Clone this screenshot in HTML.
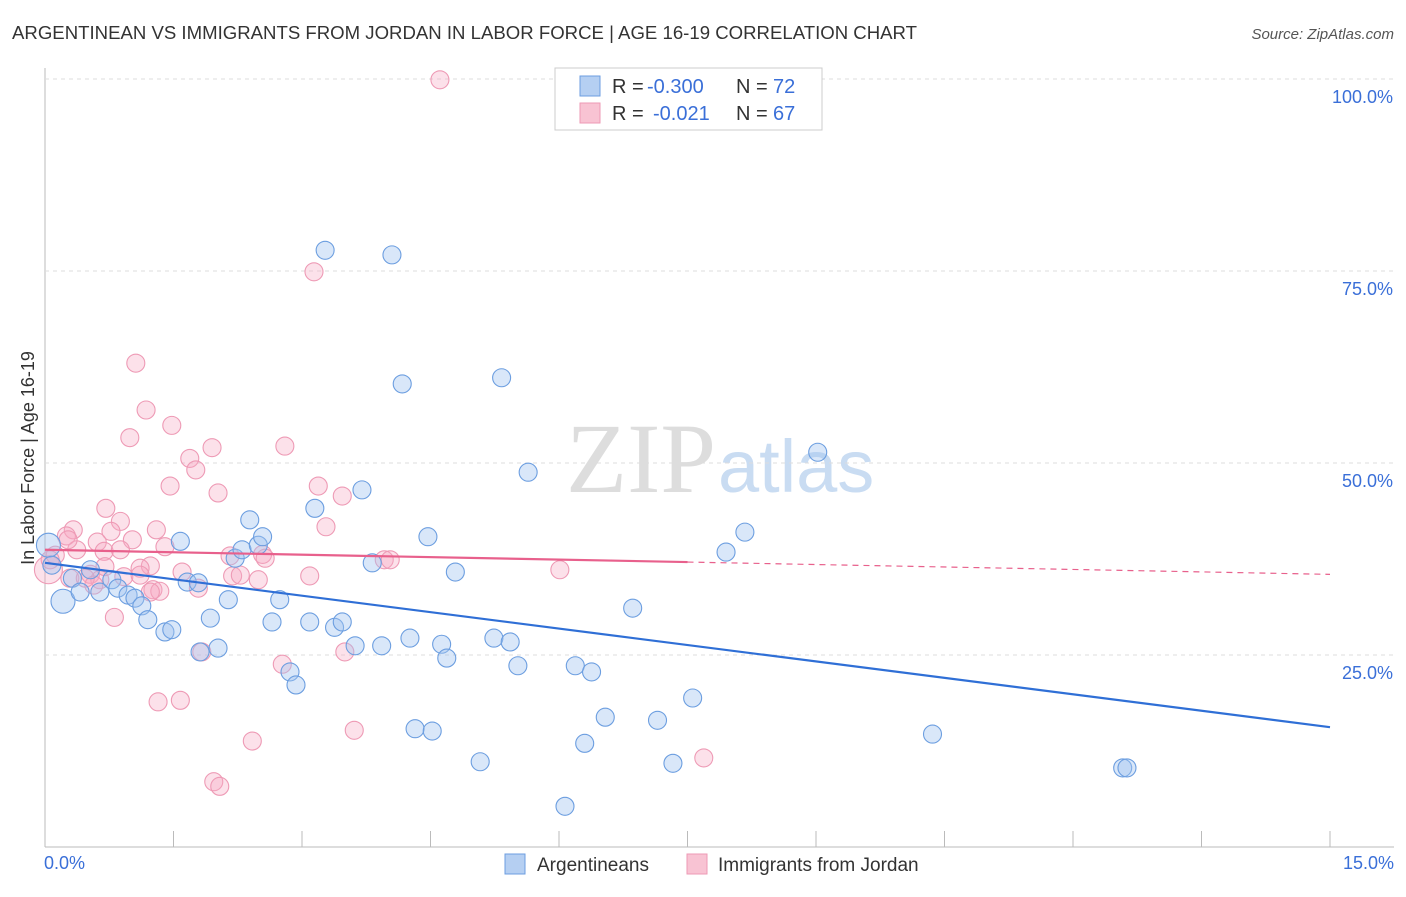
<!DOCTYPE html>
<html><head><meta charset="utf-8"><style>
body{margin:0;background:#fff;font-family:"Liberation Sans",sans-serif;}
</style></head><body>
<svg id="c" width="1406" height="892" xmlns="http://www.w3.org/2000/svg">
<text x="12" y="39" font-size="18" fill="#333" textLength="905" lengthAdjust="spacingAndGlyphs">ARGENTINEAN VS IMMIGRANTS FROM JORDAN IN LABOR FORCE | AGE 16-19 CORRELATION CHART</text>
<text x="1394" y="39" font-size="15" fill="#555" font-style="italic" text-anchor="end">Source: ZipAtlas.com</text>
<text x="716" y="492" font-size="100" fill="#ddd" font-family="Liberation Serif" text-anchor="end">ZIP</text>
<text x="718" y="492" font-size="74" fill="#c9dcf2">atlas</text>
<text transform="translate(34,458) rotate(-90)" font-size="18" fill="#333" text-anchor="middle">In Labor Force | Age 16-19</text>
<g id="grid"></g><g id="pts"></g><g id="trend"></g>
<g>
<rect x="555" y="68" width="267" height="62" fill="#fff" stroke="#ccc"/>
<rect x="580" y="76" width="20" height="20" fill="#b5cff2" stroke="#6c9ee0"/>
<text y="93" font-size="20" fill="#333"><tspan x="612">R =</tspan><tspan x="647" fill="#3a6fd8">-0.300</tspan><tspan x="736">N =</tspan><tspan x="773" fill="#3a6fd8">72</tspan></text>
<rect x="580" y="103" width="20" height="20" fill="#f8c3d3" stroke="#ee9ab5"/>
<text y="120" font-size="20" fill="#333"><tspan x="612">R =</tspan><tspan x="653" fill="#3a6fd8">-0.021</tspan><tspan x="736">N =</tspan><tspan x="773" fill="#3a6fd8">67</tspan></text>
</g>
<g>
<rect x="505" y="854" width="20" height="20" fill="#b5cff2" stroke="#6c9ee0"/>
<text x="537" y="871" font-size="19" fill="#333">Argentineans</text>
<rect x="687" y="854" width="20" height="20" fill="#f8c3d3" stroke="#ee9ab5"/>
<text x="718" y="871" font-size="19" fill="#333">Immigrants from Jordan</text>
</g>
</svg>
<script>
const blueX=[0.04,0.21,0.08,0.32,0.41,0.53,0.64,0.78,0.85,0.97,1.05,1.13,1.20,1.40,1.48,1.58,1.66,1.79,1.81,1.93,2.02,2.14,2.22,2.30,2.39,2.49,2.54,2.65,2.74,2.86,2.93,3.09,3.15,3.27,3.38,3.47,3.62,3.70,3.82,3.93,4.05,4.17,4.26,4.32,4.47,4.52,4.63,4.69,4.79,5.08,5.24,5.33,5.43,5.52,5.64,6.07,6.19,6.30,6.38,6.54,6.86,7.15,7.33,7.56,7.95,8.17,9.02,10.36,12.58,12.63];
const blueY=[39.3,32.0,36.7,35.0,33.2,36.1,33.2,34.8,33.7,32.8,32.4,31.4,29.6,28.0,28.3,39.8,34.5,34.4,25.4,29.8,25.9,32.2,37.6,38.7,42.6,39.3,40.4,29.3,32.2,22.8,21.1,29.3,44.1,77.7,28.6,29.3,26.2,46.5,37.0,26.2,77.1,60.3,27.2,15.4,40.4,15.1,26.4,24.6,35.8,11.1,27.2,61.1,26.7,23.6,48.8,5.3,23.6,13.5,22.8,16.9,31.1,16.5,10.9,19.4,38.4,41.0,51.4,14.7,10.3,10.3];
const blueBig=[0,1];
const pinkX=[4.61,3.14,1.06,1.18,1.48,0.99,1.95,2.80,1.69,1.76,1.46,3.19,2.02,3.47,0.71,0.88,1.30,0.33,3.28,0.77,0.25,0.61,1.02,1.40,0.37,0.69,0.88,2.54,3.96,4.03,1.23,1.11,1.60,0.53,0.92,2.19,2.49,3.09,6.01,0.64,0.29,1.26,1.79,1.34,0.81,1.83,3.50,2.77,1.32,1.58,3.61,2.42,7.69,1.97,2.04,0.04,0.12,0.47,0.27,0.57,1.11,1.23,2.57,2.16,0.70,2.28,0.06];
const pinkY=[99.9,74.9,63.0,56.9,54.9,53.3,52.0,52.2,50.6,49.1,47.0,47.0,46.1,45.7,44.1,42.4,41.3,41.3,41.7,41.1,40.5,39.7,40.0,39.1,38.7,38.5,38.7,38.1,37.4,37.4,36.6,36.3,35.8,35.5,35.2,35.3,34.8,35.3,36.1,34.8,35.0,33.5,33.7,33.3,29.9,25.4,25.4,23.8,18.9,19.1,15.2,13.8,11.6,8.5,7.9,36.1,38.0,35.0,40.0,34.1,35.4,33.2,37.6,37.9,36.5,35.4,37.4];
const pinkBig=[55];
const yTicks=[100,75,50,25];
const yTickLabels=["100.0%","75.0%","50.0%","25.0%"];
const xTickLabels=["0.0%","15.0%"];
const blueTrend=[37.0,15.6];
const pinkTrend=[38.7,35.5];
const pinkSolidEnd=7.5;
const NS="http://www.w3.org/2000/svg";
const sx=v=>45+v/15*1285, sy=v=>847-v/100*768;
function mk(t,a,p){const e=document.createElementNS(NS,t);for(const k in a)e.setAttribute(k,a[k]);p.appendChild(e);return e;}
const g=document.getElementById('grid');
const ax=mk('line',{x1:45,y1:68,x2:45,y2:847,stroke:'#bbb','stroke-width':1},g);

const bx=mk('line',{x1:45,y1:847,x2:1394,y2:847,stroke:'#bbb','stroke-width':1},g);

for(let i=0;i<=10;i++){const t=mk('line',{x1:sx(i*1.5),x2:sx(i*1.5),y1:831,y2:847,stroke:'#bbb'},g);
}
yTicks.forEach((v,i)=>{const l=mk('line',{x1:45,x2:1394,y1:sy(v),y2:sy(v),stroke:'#ddd','stroke-dasharray':'4,4'},g);

const t=mk('text',{x:1393,y:sy(v)+24,'font-size':18,fill:'#3a6fd8','text-anchor':'end'},g);t.textContent=yTickLabels[i];
});
[[0,'start',44],[15,'end',1394]].forEach((d,i)=>{const t=mk('text',{x:d[2],y:869,'font-size':18,fill:'#3a6fd8','text-anchor':d[1]},g);t.textContent=xTickLabels[i];
});
const p=document.getElementById('pts');
pinkX.forEach((x,i)=>{const c=mk('circle',{cx:sx(x),cy:sy(pinkY[i]),r:pinkBig.includes(i)?14:9,fill:'rgba(245,170,195,0.35)',stroke:'#ee9ab5','stroke-width':1.1},p);
});
blueX.forEach((x,i)=>{const c=mk('circle',{cx:sx(x),cy:sy(blueY[i]),r:blueBig.includes(i)?12:9,fill:'rgba(160,196,240,0.4)',stroke:'#6c9ee0','stroke-width':1.1},p);
});
const tr=document.getElementById('trend');
const b=mk('line',{x1:sx(0),y1:sy(blueTrend[0]),x2:sx(15),y2:sy(blueTrend[1]),stroke:'#2f6fd6','stroke-width':2.2},tr);

const pm=pinkTrend[0]+(pinkTrend[1]-pinkTrend[0])*pinkSolidEnd/15;
const p1=mk('line',{x1:sx(0),y1:sy(pinkTrend[0]),x2:sx(pinkSolidEnd),y2:sy(pm),stroke:'#e8608c','stroke-width':2.2},tr);

const p2=mk('line',{x1:sx(pinkSolidEnd),y1:sy(pm),x2:sx(15),y2:sy(pinkTrend[1]),stroke:'#e8608c','stroke-width':1.2,'stroke-dasharray':'6,5'},tr);

</script>
</body></html>
